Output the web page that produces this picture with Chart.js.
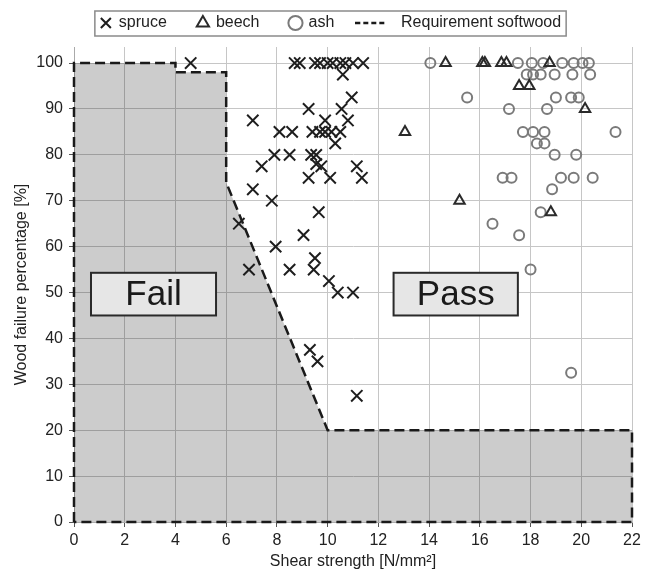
<!DOCTYPE html>
<html>
<head>
<meta charset="utf-8">
<script src="https://cdn.jsdelivr.net/npm/chart.js@4.4.0/dist/chart.umd.min.js"></script>
<style>
  html, body { margin: 0; padding: 0; background: #fff; }
</style>
</head>
<body>
<canvas id="chart" width="650" height="573"></canvas>
<script>
// shear strength [N/mm²], wood failure [%]
const spruce = [
  [4.6,100],[8.7,100],[8.9,100],[9.5,100],[9.7,100],[10.0,100],[10.2,100],[10.5,100],[10.7,100],[11.0,100],[11.4,100],
  [10.6,97.5],[10.95,92.5],[9.25,90],[10.55,90],[7.05,87.5],[9.9,87.5],[10.8,87.5],
  [8.1,85],[8.6,85],[9.4,85],[9.7,85],[9.9,85],[10.15,85],[10.5,85],
  [10.3,82.5],[7.9,80],[8.5,80],[9.35,80],[9.55,80],[7.4,77.5],[9.55,78],[9.75,77.5],[11.15,77.5],
  [9.25,75],[10.1,75],[11.35,75],[7.05,72.5],[7.8,70],[9.65,67.5],[6.5,65],[9.05,62.5],[7.95,60],
  [9.5,57.5],[6.9,55],[8.5,55],[9.45,55],[10.05,52.5],[10.4,50],[11.0,50],[9.3,37.5],[9.6,35],[11.15,27.5]
];
const beech = [
  [14.65,100],[16.1,100],[16.2,100],[16.85,100],[17.05,100],[18.75,100],
  [17.55,95],[17.95,95],[20.15,90],[13.05,85],[15.2,70],[18.8,67.5]
];
const ash = [
  [14.05,100],[17.5,100],[18.05,100],[18.5,100],[19.25,100],[19.7,100],[20.05,100],[20.3,100],
  [17.85,97.5],[18.1,97.5],[18.4,97.5],[18.95,97.5],[19.65,97.5],[20.35,97.5],
  [15.5,92.5],[19.0,92.5],[19.6,92.5],[19.9,92.5],
  [17.15,90],[18.65,90],
  [17.7,85],[18.1,85],[18.55,85],[21.35,85],
  [18.25,82.5],[18.55,82.5],
  [18.95,80],[19.8,80],
  [16.9,75],[17.25,75],[19.2,75],[19.7,75],[20.45,75],
  [18.85,72.5],[18.4,67.5],[16.5,65],[17.55,62.5],[18.0,55],[19.6,32.5]
];
// requirement outline (closed)
const requirement = [[0,0],[0,100],[4,100],[4,98],[6,98],[6,74],[10,20],[22,20],[22,0],[0,0]];

const seriesNames = ['spruce', 'beech', 'ash', 'Requirement softwood'];
const zoneNames = ['Fail', 'Pass'];
const zoneX = [[0.67, 5.6], [12.6, 17.5]];
const zoneY = [45, 54.3];

const xTicks = [0, 2, 4, 6, 8, 10, 12, 14, 16, 18, 20, 22];
const yTicks = [0, 10, 20, 30, 40, 50, 60, 70, 80, 90, 100];

const toXY = pts => pts.map(p => ({x: p[0], y: p[1]}));
const FONT = "'Liberation Sans', Arial, sans-serif";
const LINE_COLOR = '#1a1a1a';

// small dashed sample for the legend
const dashSample = document.createElement('canvas');
dashSample.width = 30; dashSample.height = 6;
(function () {
  const c = dashSample.getContext('2d');
  c.strokeStyle = LINE_COLOR; c.lineWidth = 2.5; c.setLineDash([5, 3]);
  c.beginPath(); c.moveTo(0, 3); c.lineTo(30, 3); c.stroke();
})();

// legend: fixed height + nudge into place, framed
const layoutTweak = {
  id: 'layoutTweak',
  beforeLayout(chart) {
    const lg = chart.legend;
    if (lg && !lg._fitPatched) {
      const fit = lg.fit;
      lg.fit = function () { fit.call(this); this.height = 36; };
      lg._fitPatched = true;
    }
  },
  afterLayout(chart) {
    const lg = chart.legend;
    lg.left += 15; lg.right += 15;
    lg.top -= 27;
    lg.height = lg.bottom - lg.top;
  },
  afterDraw(chart) {
    const lg = chart.legend, ctx = chart.ctx;
    const pad = lg.options.labels.padding;
    const lineW = lg.lineWidths[0];
    const x0 = (lg.left + pad + lg.right - lineW) / 2;
    const x1 = x0 + lineW - pad;
    const cy = lg.top + pad + 8;
    ctx.save();
    ctx.strokeStyle = '#8a8a8a';
    ctx.lineWidth = 1.5;
    ctx.strokeRect(x0 - 6, cy - 12, x1 - x0 + 11, 25);
    ctx.restore();
  }
};

// Fail / Pass boxes
const zones = {
  id: 'zones',
  afterDatasetsDraw(chart) {
    const ctx = chart.ctx, xs = chart.scales.x, ys = chart.scales.y;
    ctx.save();
    zoneNames.forEach((name, i) => {
      const l = xs.getPixelForValue(zoneX[i][0]);
      const r = xs.getPixelForValue(zoneX[i][1]);
      const t = ys.getPixelForValue(zoneY[1]);
      const b = ys.getPixelForValue(zoneY[0]);
      ctx.fillStyle = '#e6e6e6';
      ctx.fillRect(l, t, r - l, b - t);
      ctx.strokeStyle = '#2a2a2a';
      ctx.lineWidth = 2;
      ctx.strokeRect(l, t, r - l, b - t);
      ctx.fillStyle = '#1a1a1a';
      ctx.font = '35px ' + FONT;
      ctx.textAlign = 'center';
      ctx.textBaseline = 'middle';
      ctx.fillText(name, (l + r) / 2, (t + b) / 2 + 1);
    });
    ctx.restore();
  }
};

new Chart(document.getElementById('chart'), {
  type: 'scatter',
  data: {
    datasets: [{
      label: seriesNames[0],
      data: toXY(spruce),
      pointStyle: 'crossRot',
      pointRadius: 8,
      pointBorderWidth: 2,
      pointBorderColor: '#1e1e1e',
      pointBackgroundColor: 'rgba(0,0,0,0)'
    }, {
      label: seriesNames[1],
      data: toXY(beech),
      pointStyle: 'triangle',
      pointRadius: 6,
      pointBorderWidth: 2,
      pointBorderColor: '#2a2a2a',
      pointBackgroundColor: 'rgba(0,0,0,0)'
    }, {
      label: seriesNames[2],
      data: toXY(ash),
      pointStyle: 'circle',
      pointRadius: 5,
      pointBorderWidth: 2,
      pointBorderColor: '#7a7a7a',
      pointBackgroundColor: 'rgba(0,0,0,0)'
    }, {
      label: seriesNames[3],
      data: toXY(requirement),
      showLine: true,
      fill: false,
      borderColor: LINE_COLOR,
      borderWidth: 2.5,
      borderDash: [10, 5],
      tension: 0,
      pointRadius: 0,
      pointStyle: dashSample,
      clip: false
    }, {
      // shaded fail region under the requirement
      label: 'fill',
      data: toXY(requirement.slice(0, -1)),
      showLine: true,
      fill: 'origin',
      backgroundColor: 'rgba(0,0,0,0.2)',
      borderWidth: 0,
      borderColor: 'rgba(0,0,0,0)',
      pointRadius: 0
    }]
  },
  options: {
    responsive: false,
    animation: false,
    layout: { padding: { top: 11, right: 18, bottom: 0, left: 0 } },
    plugins: {
      tooltip: { enabled: false },
      legend: {
        position: 'top',
        labels: {
          usePointStyle: true,
          boxWidth: 10,
          boxHeight: 10,
          padding: 31,
          color: '#222',
          font: { family: FONT, size: 16 },
          filter: item => item.datasetIndex < 4,
          generateLabels(chart) {
            const items = Chart.defaults.plugins.legend.labels.generateLabels(chart);
            items.forEach(it => {
              if (it.datasetIndex === 3) { it.pointStyle = dashSample; it.text = '    ' + it.text; }
            });
            return items;
          }
        }
      }
    },
    scales: {
      x: {
        type: 'linear',
        min: 0,
        max: 22,
        afterFit(scale) { scale.height = 51; },
        afterBuildTicks(scale) { scale.ticks = xTicks.map(v => ({value: v})); },
        ticks: { padding: 4, color: '#222', font: { family: FONT, size: 16 } },
        grid: { color: '#c6c6c6', lineWidth: 1, tickLength: 5, tickColor: '#555' },
        border: { color: '#aaa' },
        title: {
          display: true,
          text: 'Shear strength [N/mm²]',
          color: '#222',
          font: { family: FONT, size: 16 },
          padding: { top: 2, bottom: 2 }
        }
      },
      y: {
        min: 0,
        max: 103.5,
        afterFit(scale) { scale.width = 74; },
        afterBuildTicks(scale) { scale.ticks = yTicks.map(v => ({value: v})); },
        ticks: { padding: 6, color: '#222', font: { family: FONT, size: 16 } },
        grid: { color: '#c6c6c6', lineWidth: 1, tickLength: 5, tickColor: '#555' },
        border: { color: '#aaa' },
        title: {
          display: true,
          text: 'Wood failure percentage [%]',
          color: '#222',
          font: { family: FONT, size: 16 },
          padding: { top: 12, bottom: 12 }
        }
      }
    }
  },
  plugins: [layoutTweak, zones]
});
</script>
</body>
</html>
